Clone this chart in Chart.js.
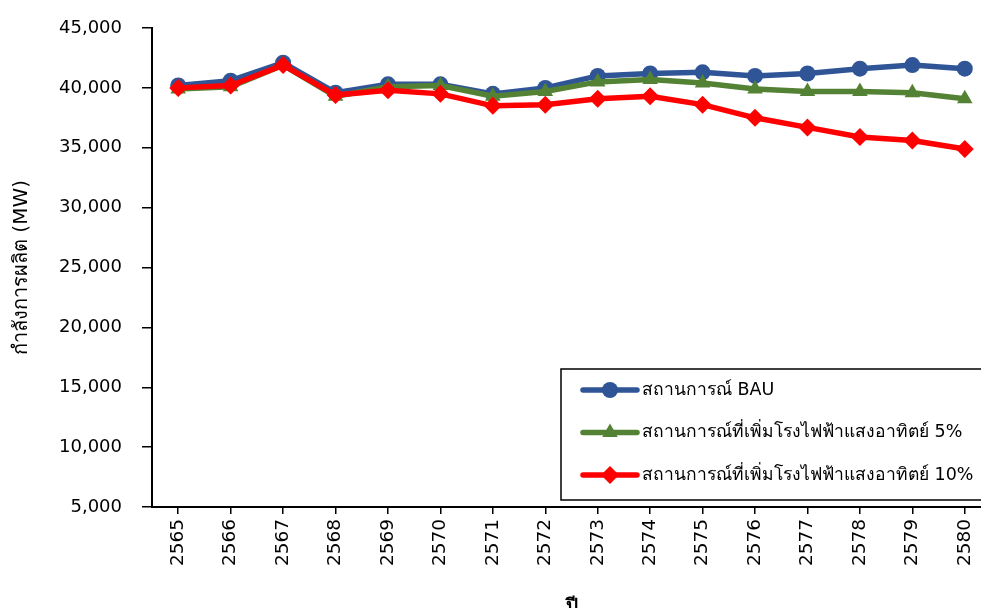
<!DOCTYPE html>
<html>
<head>
<meta charset="utf-8">
<script src="https://cdn.jsdelivr.net/npm/chart.js@4.4.1/dist/chart.umd.min.js"></script>
<style>
  html, body { margin: 0; padding: 0; background: #ffffff; overflow: hidden; }
  #wrap { position: absolute; left: 0; top: 0; width: 1000px; height: 622px; }
</style>
</head>
<body>
<div id="wrap"><canvas id="c" width="1000" height="622"></canvas></div>
<script>
// Generating capacity (MW) by year, three scenarios
const years = ['2565','2566','2567','2568','2569','2570','2571','2572',
               '2573','2574','2575','2576','2577','2578','2579','2580'];
const bauValues = [40200, 40600, 42100, 39600, 40300, 40300, 39500, 40000,
                   41000, 41200, 41300, 41000, 41200, 41600, 41900, 41600];
const solar5Values = [39900, 40100, 41900, 39300, 40100, 40200, 39300, 39700,
                      40500, 40700, 40400, 39900, 39700, 39700, 39600, 39100];
const solar10Values = [40000, 40200, 41900, 39400, 39800, 39500, 38500, 38600,
                       39100, 39300, 38600, 37500, 36700, 35900, 35600, 34900];
const seriesNames = ['สถานการณ์ BAU',
                     'สถานการณ์ที่เพิ่มโรงไฟฟ้าแสงอาทิตย์ 5%',
                     'สถานการณ์ที่เพิ่มโรงไฟฟ้าแสงอาทิตย์ 10%'];
const yMin = 5000, yMax = 45000, yStep = 5000;
const yTitle = 'กำลังการผลิต (MW)';
const xTitle = 'ปี';

const FONT = "'DejaVu Sans', Verdana, sans-serif";
const BLUE = '#2f5597', GREEN = '#548235', RED = '#ff0000';

// Boxed legend drawn inside the plot, lower right
const boxedLegend = {
  id: 'boxedLegend',
  afterDraw(chart) {
    const ctx = chart.ctx, a = chart.chartArea;
    const bx = a.left + 409, by = a.top + 341, bw = 460, bh = 131;
    ctx.save();
    ctx.fillStyle = '#ffffff';
    ctx.fillRect(bx, by, bw, bh);
    ctx.strokeStyle = '#000000';
    ctx.lineWidth = 1.5;
    ctx.strokeRect(bx, by, bw, bh);
    chart.data.datasets.forEach((ds, i) => {
      const y = by + 21 + i * 42.5;
      const x0 = bx + 22, x1 = bx + 76, xm = (x0 + x1) / 2;
      ctx.strokeStyle = ds.borderColor;
      ctx.lineWidth = 5.5;
      ctx.lineCap = 'round';
      ctx.beginPath(); ctx.moveTo(x0, y); ctx.lineTo(x1, y); ctx.stroke();
      ctx.fillStyle = ds.pointBackgroundColor;
      ctx.strokeStyle = ds.pointBackgroundColor;
      Chart.helpers.drawPoint(ctx, {
        pointStyle: ds.pointStyle, radius: ds.pointRadius, rotation: 0, borderWidth: 0
      }, xm, y);
      ctx.fillStyle = '#000000';
      ctx.font = '17.5px ' + FONT;
      ctx.textBaseline = 'middle';
      ctx.textAlign = 'left';
      ctx.fillText(ds.label, x1 + 5, y);
    });
    ctx.restore();
  }
};

function series(label, data, color, style, radius, order) {
  return {
    label, data, order,
    borderColor: color, backgroundColor: color,
    pointBackgroundColor: color, pointBorderColor: color,
    pointStyle: style, pointRadius: radius, pointHoverRadius: radius,
    pointBorderWidth: 0, borderWidth: 5.5, tension: 0, fill: false
  };
}

new Chart(document.getElementById('c'), {
  type: 'line',
  data: {
    labels: years,
    datasets: [
      series(seriesNames[0], bauValues, BLUE, 'circle', 8, 3),
      series(seriesNames[1], solar5Values, GREEN, 'triangle', 9, 2),
      series(seriesNames[2], solar10Values, RED, 'rectRot', 9, 1)
    ]
  },
  options: {
    responsive: false,
    animation: false,
    layout: { padding: { top: 28, left: 0, right: 4, bottom: 0 } },
    plugins: { legend: { display: false }, tooltip: { enabled: false } },
    scales: {
      x: {
        offset: true,
        grid: { display: true, drawOnChartArea: false, offset: false,
                color: '#000000', tickLength: 7, lineWidth: 1.5 },
        border: { display: true, color: '#000000', width: 2 },
        ticks: { color: '#000000', font: { family: FONT, size: 18.5 },
                 minRotation: 90, maxRotation: 90, padding: 5, autoSkip: false },
        title: { display: true, text: xTitle, color: '#000000',
                 font: { family: FONT, size: 19, weight: 'bold' }, padding: { top: 12 } },
        afterFit(s) { s.height = 622 - 507; }
      },
      y: {
        min: yMin, max: yMax,
        grid: { display: true, drawOnChartArea: false, color: '#000000',
                tickLength: 10, lineWidth: 1.5 },
        border: { display: true, color: '#000000', width: 2 },
        ticks: { stepSize: yStep, color: '#000000', padding: 20,
                 font: { family: FONT, size: 18 } },
        title: { display: true, text: yTitle, color: '#000000',
                 font: { family: FONT, size: 20 }, padding: { top: 10 } },
        afterFit(s) { s.width = 152; s.paddingTop = 0; s.paddingBottom = 0; }
      }
    }
  },
  plugins: [boxedLegend]
});
</script>
</body>
</html>
